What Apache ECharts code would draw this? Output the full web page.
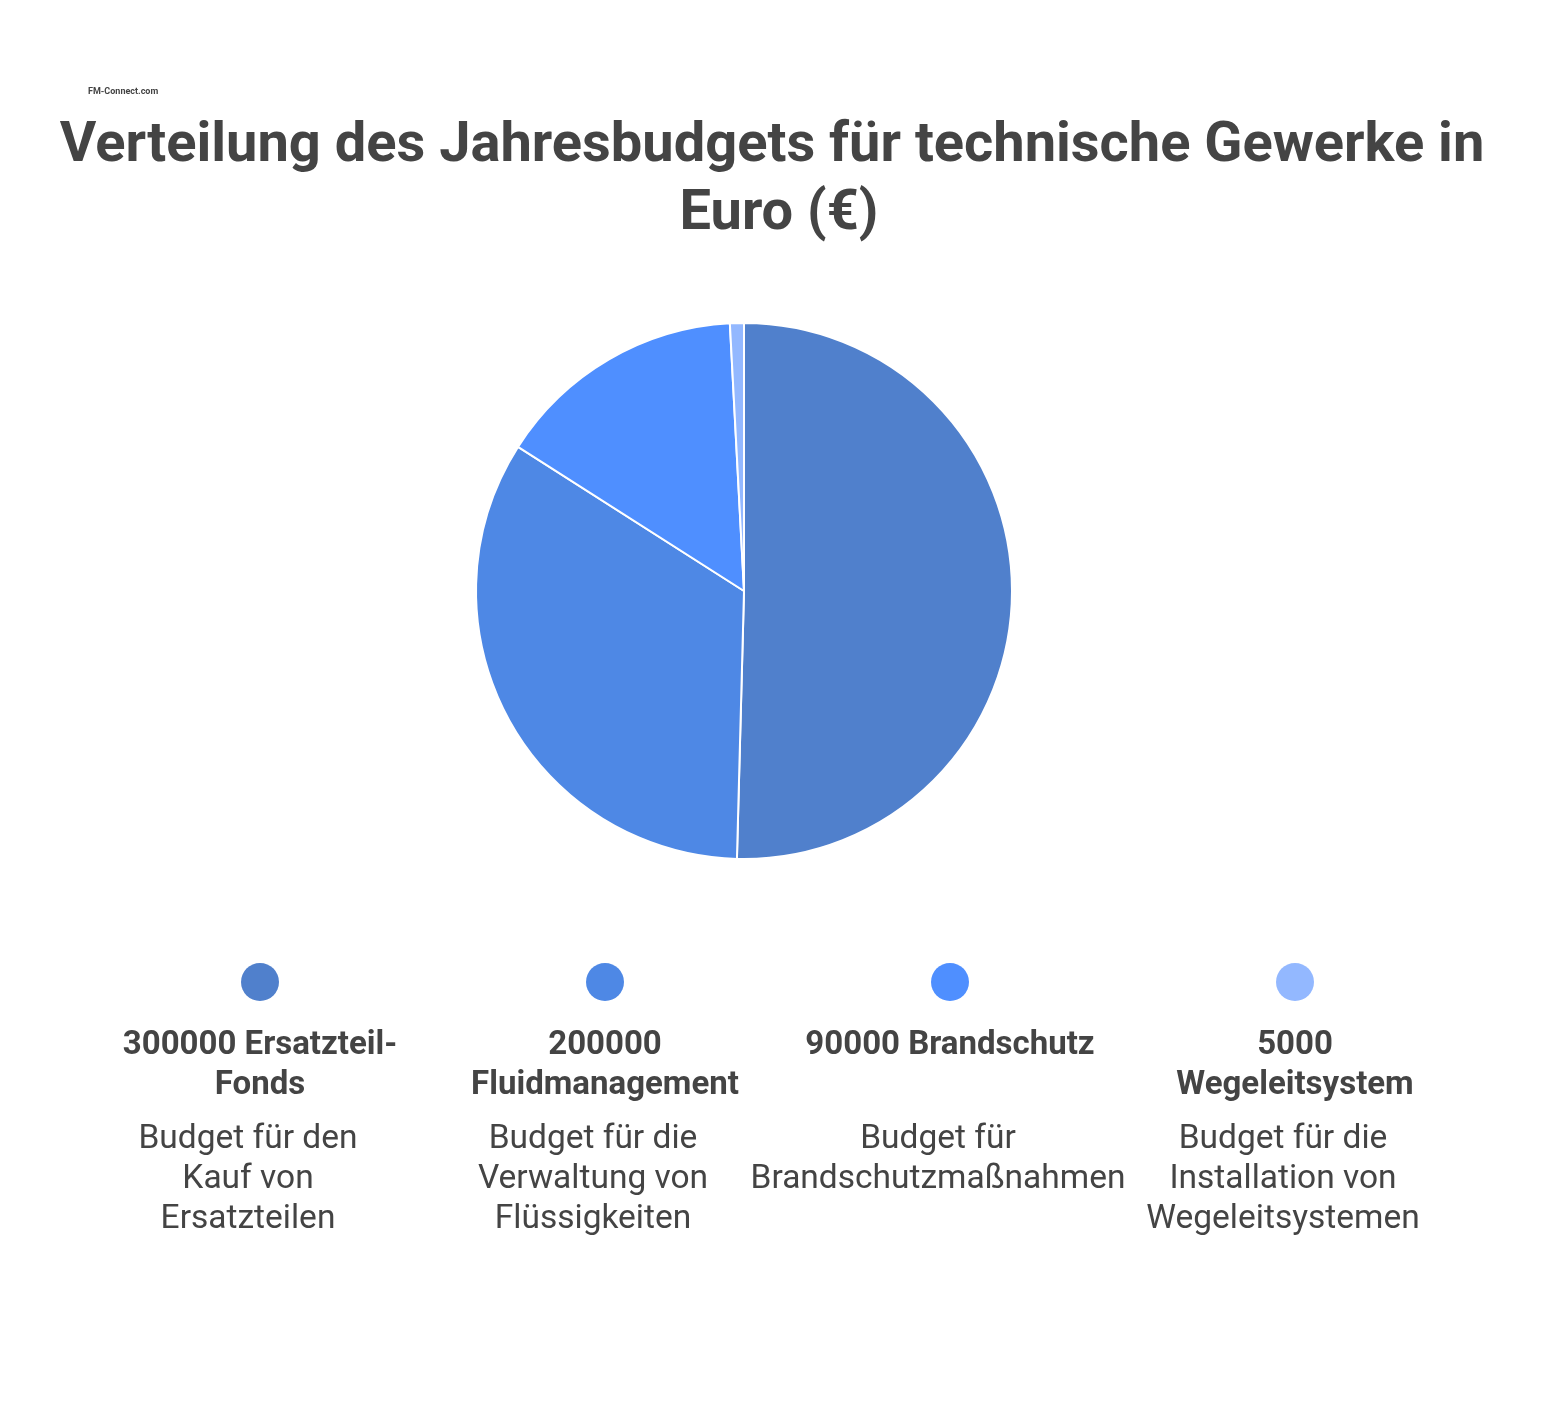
<!DOCTYPE html>
<html>
<head>
<meta charset="utf-8">
<script src="https://cdn.jsdelivr.net/npm/echarts@6/dist/echarts.min.js"></script>
<style>html,body{margin:0;padding:0;background:#fff}#c{width:1558px;height:1426px}</style>
</head>
<body>
<div id="c"></div>
<script>
const titleText = "Verteilung des Jahresbudgets für technische Gewerke in \nEuro (€)";
const categories = ["Ersatzteil-Fonds", "Fluidmanagement", "Brandschutz", "Wegeleitsystem"];
const values = [300000, 200000, 90000, 5000];
const labelLines = [
  "300000 Ersatzteil-\nFonds",
  "200000\nFluidmanagement",
  "90000 Brandschutz",
  "5000\nWegeleitsystem"
];
const descriptions = [
  "Budget für den\nKauf von\nErsatzteilen",
  "Budget für die\nVerwaltung von\nFlüssigkeiten",
  "Budget für\nBrandschutzmaßnahmen",
  "Budget für die\nInstallation von\nWegeleitsystemen"
];
const colors = ["#5080CC", "#4E88E5", "#4F8FFF", "#93B8FF"];

const chart = echarts.init(document.getElementById('c'), null, {renderer: 'canvas'});
const colX = [260, 605, 950, 1295];
const graphics = [
  {type: 'text', left: 88, top: 87, style: {text: 'FM-Connect.com', fontSize: 9, fontWeight: 'bold', fill: '#444', fontFamily: 'Roboto'}}
];
categories.forEach((c, i) => {
  graphics.push({type: 'circle', shape: {cx: colX[i], cy: 982, r: 19}, style: {fill: colors[i]}});
  graphics.push({type: 'text', x: colX[i], y: 1026, style: {text: labelLines[i], fontSize: 33, lineHeight: 40, fontWeight: 'bold', fill: '#444', align: 'center', verticalAlign: 'top', fontFamily: 'Roboto'}});
  graphics.push({type: 'text', x: colX[i] - 12, y: 1120, style: {text: descriptions[i], fontSize: 33.5, lineHeight: 40, fill: '#444', align: 'center', verticalAlign: 'top', fontFamily: 'Roboto'}});
});

chart.setOption({
  backgroundColor: '#fff',
  animation: false,
  title: {
    text: titleText,
    left: 'center',
    top: 108,
    textStyle: {fontSize: 56, lineHeight: 68, fontWeight: 'bold', color: '#444', fontFamily: 'Roboto'}
  },
  graphic: graphics,
  series: [{
    type: 'pie',
    center: [744, 591],
    radius: 268,
    startAngle: 90,
    clockwise: true,
    label: {show: false},
    labelLine: {show: false},
    itemStyle: {borderColor: '#fff', borderWidth: 2},
    data: categories.map((c, i) => ({name: c, value: values[i], itemStyle: {color: colors[i]}}))
  }]
});
</script>
</body>
</html>
